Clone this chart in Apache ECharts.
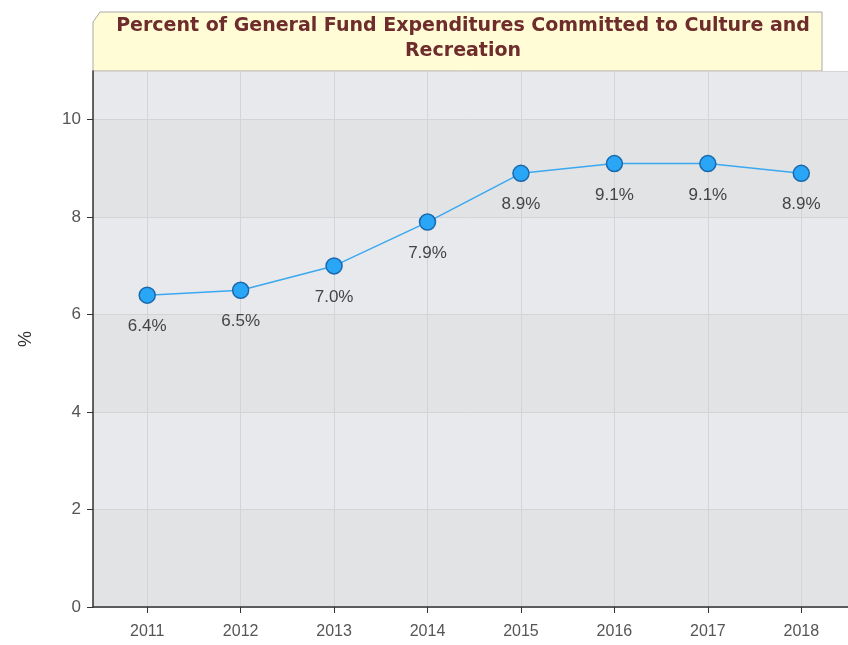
<!DOCTYPE html>
<html>
<head>
<meta charset="utf-8">
<script src="https://cdn.jsdelivr.net/npm/echarts@6/dist/echarts.min.js"></script>
<style>
  html, body { margin: 0; padding: 0; background: #fff; }
  #main { width: 848px; height: 645px; }
</style>
</head>
<body>
<div id="main"></div>
<script>
// data
var years = [2011, 2012, 2013, 2014, 2015, 2016, 2017, 2018];
var percents = [6.4, 6.5, 7.0, 7.9, 8.9, 9.1, 9.1, 8.9];
var titleText = 'Percent of General Fund Expenditures Committed to Culture and\nRecreation';

var chart = echarts.init(document.getElementById('main'));

var points = [];
for (var i = 0; i < years.length; i++) {
    points.push([years[i], percents[i]]);
}

var option = {
    backgroundColor: '#fff',
    title: {
        text: titleText,
        left: 458,
        top: 9,
        textAlign: 'center',
        textStyle: {
            fontFamily: 'DejaVu Sans',
            fontWeight: 'bold',
            fontSize: 19,
            lineHeight: 25,
            color: '#6e2c2c'
        }
    },
    graphic: [
        {
            type: 'polygon',
            z: -1,
            shape: {
                points: [[100, 12], [822, 12], [822, 71], [93, 71], [93, 22]]
            },
            style: { fill: '#fffcd6', stroke: '#a9a9a9', lineWidth: 1 }
        }
    ],
    grid: {
        left: 93,
        right: 0,
        top: 71,
        bottom: 38,
        show: true,
        backgroundColor: '#e6e8ea',
        borderWidth: 0
    },
    xAxis: {
        type: 'value',
        min: 2010.42,
        max: 2018.5,
        minInterval: 1,
        maxInterval: 1,
        axisLine: { lineStyle: { color: '#333', width: 1.5 } },
        axisTick: { show: true, length: 6, lineStyle: { color: '#333' } },
        axisLabel: {
            showMinLabel: false,
            showMaxLabel: false,
            margin: 17,
            fontFamily: 'Liberation Sans',
            fontSize: 16,
            color: '#555',
            formatter: function (v) {
                return Number.isInteger(v) ? String(v) : '';
            }
        },
        splitLine: { show: true, lineStyle: { color: '#d4d4d4', width: 1 } }
    },
    yAxis: {
        type: 'value',
        min: 0,
        max: 11,
        interval: 2,
        name: '%',
        nameLocation: 'middle',
        nameGap: 58,
        nameRotate: 90,
        nameTextStyle: { fontFamily: 'Liberation Sans', fontSize: 18, color: '#333' },
        axisLine: { show: true, lineStyle: { color: '#333', width: 1.5 } },
        axisTick: { show: true, length: 6, lineStyle: { color: '#333' } },
        axisLabel: {
            showMaxLabel: false,
            margin: 12,
            fontFamily: 'Liberation Sans',
            fontSize: 17,
            color: '#555'
        },
        splitLine: { show: true, lineStyle: { color: '#d4d4d4', width: 1 } },
        splitArea: { show: true, areaStyle: { color: ['#e2e3e5', '#e7e9ec'] } }
    },
    series: [
        {
            type: 'line',
            data: points,
            symbol: 'circle',
            symbolSize: 16,
            lineStyle: { color: '#3aa8f0', width: 1.5 },
            itemStyle: { color: '#2aa6f6', borderColor: '#1a68ad', borderWidth: 1.5 },
            label: {
                show: true,
                position: 'bottom',
                distance: 14,
                fontFamily: 'Liberation Sans',
                fontSize: 17,
                color: '#444',
                formatter: function (p) { return p.value[1].toFixed(1) + '%'; }
            }
        }
    ]
};

chart.setOption(option);
</script>
</body>
</html>
